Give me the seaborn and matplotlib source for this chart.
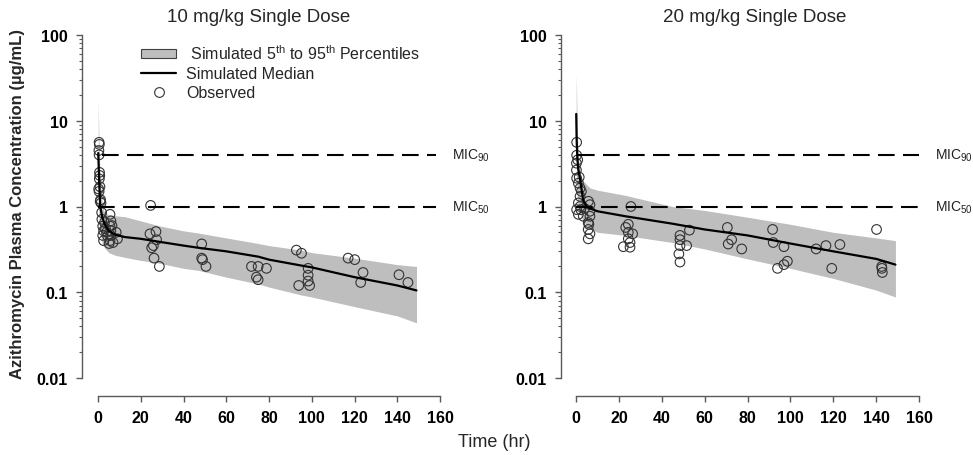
import numpy as np
import pandas as pd
import matplotlib
matplotlib.use("Agg")
import matplotlib.pyplot as plt
import seaborn as sns
from matplotlib.lines import Line2D
from matplotlib.patches import Patch
from matplotlib.ticker import LogLocator, NullFormatter

# ---------------------------------------------------------
# data
# ---------------------------------------------------------

# 10 mg/kg simulated band + median
sim_time_10 = [0.1, 0.3, 0.6, 1, 2, 3, 5, 8, 12.6, 20, 28, 40, 47, 60, 75, 80, 95, 100, 120, 140, 149]
sim_p95_10 = [18, 9, 4, 2.2, 1.0, 0.86, 0.8, 0.78, 0.76, 0.68, 0.6, 0.52, 0.49, 0.43, 0.37, 0.35, 0.31, 0.29, 0.25, 0.21, 0.20]
sim_med_10 = [4.2, 3.0, 1.8, 1.0, 0.75, 0.63, 0.52, 0.47, 0.44, 0.42, 0.39, 0.35, 0.33, 0.30, 0.26, 0.24, 0.205, 0.195, 0.15, 0.12, 0.105]
sim_p05_10 = [1.5, 1.0, 0.7, 0.5, 0.37, 0.33, 0.29, 0.27, 0.255, 0.235, 0.22, 0.19, 0.18, 0.15, 0.125, 0.115, 0.093, 0.088, 0.068, 0.053, 0.044]

# 20 mg/kg simulated band + median
sim_time_20 = [0.1, 0.3, 0.6, 1, 2, 3.3, 5, 6.5, 10, 23, 45, 60, 80, 100, 120, 140, 149]
sim_p95_20 = [35, 20, 8, 4, 2.3, 2.0, 1.8, 1.65, 1.55, 1.35, 1.0, 0.9, 0.75, 0.62, 0.5, 0.43, 0.4]
sim_med_20 = [12, 6, 3.8, 2.8, 2.0, 1.2, 1.0, 0.95, 0.88, 0.77, 0.63, 0.54, 0.46, 0.37, 0.3, 0.245, 0.21]
sim_p05_20 = [3, 2, 1.4, 1.0, 0.8, 0.68, 0.6, 0.55, 0.5, 0.46, 0.38, 0.32, 0.245, 0.19, 0.145, 0.106, 0.088]

# observed 10 mg/kg
obs_time_10 = [0.5, 0.6, 0.4, 0.5, 0.7, 0.8, 0.6, 0.3, 0.5, 0.9, 1.2, 1.4, 1.0, 1.7, 1.8,
               2.2, 2.6, 2.2, 2.6, 3.0, 3.5, 4.0, 4.5, 5.6, 6.0, 5.6, 6.0, 6.0, 5.6, 5.2,
               7.0, 6.5, 9.1, 8.5,
               24.6, 24.3, 27.1, 27.4, 25.1, 25.9, 26.2, 28.7, 48.5, 48.5, 48.9, 50.5,
               71.8, 74.1, 74.9, 74.9, 78.8, 92.8, 95.2, 93.9, 98.3, 98.3, 98.3, 99.0,
               117, 120.1, 124, 122.9, 140.8, 145]
obs_conc_10 = [5.6, 5.3, 4.5, 4.0, 2.5, 2.3, 2.1, 1.6, 1.5, 1.7, 1.2, 1.1, 1.15, 0.85, 0.71,
               0.59, 0.52, 0.46, 0.40, 0.65, 0.55, 0.5, 0.45, 0.81, 0.68, 0.59, 0.52, 0.46, 0.40, 0.37,
               0.38, 0.6, 0.42, 0.5,
               1.03, 0.48, 0.51, 0.41, 0.33, 0.35, 0.25, 0.2, 0.366, 0.25, 0.24, 0.2,
               0.2, 0.15, 0.14, 0.2, 0.19, 0.31, 0.285, 0.12, 0.19, 0.158, 0.135, 0.12,
               0.25, 0.24, 0.17, 0.13, 0.16, 0.13]

# observed 20 mg/kg
obs_time_20 = [0.3, 0.3, 0.2, 0.2, 0.3, 1.1, 1.9, 1.9, 1.1, 1.1, 1.9, 2.2, 0.3, 3.4,
               6.5, 6.5, 6.5, 5.7, 5.7, 6.5, 5.7, 5.8, 6.0, 2.5, 1.5, 0.8, 4.0,
               25.6, 24.4, 23.2, 24.4, 26.4, 24.4, 25.2, 22.1, 25.2,
               48.5, 48.5, 48.5, 51.6, 48.0, 48.5, 52.9, 70.6, 71.0, 72.6, 77.3,
               91.7, 92.0, 97.0, 94.0, 97.0, 98.6, 112, 116.6, 119.3, 123.1,
               140.2, 142.6, 142.9, 142.7]
obs_conc_20 = [5.6, 3.96, 3.2, 2.66, 2.14, 1.87, 1.64, 1.31, 1.1, 0.81, 1.0, 0.92, 0.92, 0.77,
               1.05, 0.88, 0.77, 0.65, 0.54, 0.48, 0.42, 1.15, 0.62, 1.5, 2.2, 3.5, 0.95,
               1.0, 0.62, 0.57, 0.5, 0.48, 0.42, 0.38, 0.34, 0.335,
               0.46, 0.41, 0.35, 0.35, 0.28, 0.225, 0.53, 0.57, 0.365, 0.41, 0.32,
               0.54, 0.38, 0.34, 0.19, 0.21, 0.23, 0.32, 0.35, 0.19, 0.36,
               0.54, 0.2, 0.17, 0.19]

mic_levels = [4, 1]
mic_labels = ["MIC$_{90}$", "MIC$_{50}$"]
mic_start_10 = [2, 0]
mic_start_20 = [1, 0]
mic_end_10 = 158
mic_end_20 = 160

y_ticks = [0.01, 0.1, 1, 10, 100]
y_tick_labels = ["0.01", "0.1", "1", "10", "100"]
x_ticks = [0, 20, 40, 60, 80, 100, 120, 140, 160]

# =========================================================
# STYLE
# =========================================================

sns.set_theme(style="ticks")
plt.rcParams["font.family"] = ["Liberation Sans", "DejaVu Sans"]
plt.rcParams["mathtext.fontset"] = "custom"
plt.rcParams["mathtext.rm"] = "Liberation Sans"
plt.rcParams["mathtext.it"] = "Liberation Sans:italic"
plt.rcParams["mathtext.bf"] = "Liberation Sans:bold"

band_color = "#bebebe"
spine_color = "#5a5a5a"
circle_color = "#333333"

fig = plt.figure(figsize=(9.73, 4.56), dpi=100)
ax_l = fig.add_axes([82 / 973, 1 - 379 / 456, 358 / 973, 343 / 456])
ax_r = fig.add_axes([561 / 973, 1 - 379 / 456, 358 / 973, 343 / 456])


def draw_panel(ax, t, lo, med, hi, ot, oc, xmin, mic_start, mic_end, mic_text_x):
    ax.fill_between(t, lo, hi, color=band_color, linewidth=0)
    sns.lineplot(x=t, y=med, ax=ax, color="black", linewidth=1.6,
                 estimator=None, sort=False, legend=False)
    sns.scatterplot(x=ot, y=oc, ax=ax, s=48, facecolor="none",
                    edgecolor=circle_color, linewidth=0.8, legend=False)

    for lvl, x0, lab in zip(mic_levels, mic_start, mic_labels):
        ax.plot([x0, mic_end], [lvl, lvl], color="black", linewidth=1.5,
                linestyle=(0, (8, 4)))
        ax.text(mic_text_x, lvl, lab, fontsize=10, va="center", ha="left",
                clip_on=False, color="#222222")

    ax.set_yscale("log")
    ax.set_ylim(0.01, 100)
    ax.set_xlim(xmin, 160)
    ax.set_yticks(y_ticks, labels=y_tick_labels)
    ax.set_xticks(x_ticks, labels=[str(x) for x in x_ticks])
    ax.yaxis.set_minor_locator(LogLocator(base=10, subs=np.arange(2, 10)))
    ax.yaxis.set_minor_formatter(NullFormatter())
    ax.set_xlabel("")
    ax.set_ylabel("")

    sns.despine(ax=ax)
    ax.spines["bottom"].set_position(("outward", 13))
    ax.spines["bottom"].set_bounds(0, 160)
    for side in ["left", "bottom"]:
        ax.spines[side].set_color(spine_color)
        ax.spines[side].set_linewidth(1.0)

    ax.tick_params(axis="both", which="major", length=4, width=1, color=spine_color,
                   direction="out", labelsize=11.5, pad=6, labelcolor="black")
    ax.tick_params(axis="y", which="minor", length=2.5, width=0.8, color=spine_color)
    for lab in ax.get_xticklabels() + ax.get_yticklabels():
        lab.set_fontweight("bold")


draw_panel(ax_l, sim_time_10, sim_p05_10, sim_med_10, sim_p95_10,
           obs_time_10, obs_conc_10, -7.5, mic_start_10, mic_end_10, 165.5)
draw_panel(ax_r, sim_time_20, sim_p05_20, sim_med_20, sim_p95_20,
           obs_time_20, obs_conc_20, -7.0, mic_start_20, mic_end_20, 167.5)

# legend (left panel only)
handles = [
    Patch(facecolor=band_color, edgecolor="#404040", linewidth=0.8),
    Line2D([], [], color="black", linewidth=1.6),
    Line2D([], [], marker="o", linestyle="none", markerfacecolor="none",
           markeredgecolor=circle_color, markersize=7, markeredgewidth=0.8),
]
labels = [" Simulated 5$^{\\mathrm{th}}$ to 95$^{\\mathrm{th}}$ Percentiles",
          "Simulated Median", "Observed"]
ax_l.legend(handles, labels, loc="upper left", bbox_to_anchor=(0.165, 0.975),
            frameon=False, fontsize=11.5, handlelength=2.2, handleheight=0.55,
            handletextpad=0.6, labelspacing=0.25, borderpad=0, borderaxespad=0)

# titles and axis labels
fig.text(259 / 973, 1 - 17.5 / 456, "10 mg/kg Single Dose", fontsize=13.5,
         ha="center", va="center")
fig.text(755 / 973, 1 - 17.5 / 456, "20 mg/kg Single Dose", fontsize=13.5,
         ha="center", va="center")
fig.text(18 / 973, 1 - 204 / 456, "Azithromycin Plasma Concentration (µg/mL)",
         rotation=90, fontsize=12, fontweight="bold", ha="center", va="center")
fig.text(494 / 973, 1 - 443 / 456, "Time (hr)", fontsize=13, ha="center", va="center")

fig.savefig("out.png", dpi=100)
